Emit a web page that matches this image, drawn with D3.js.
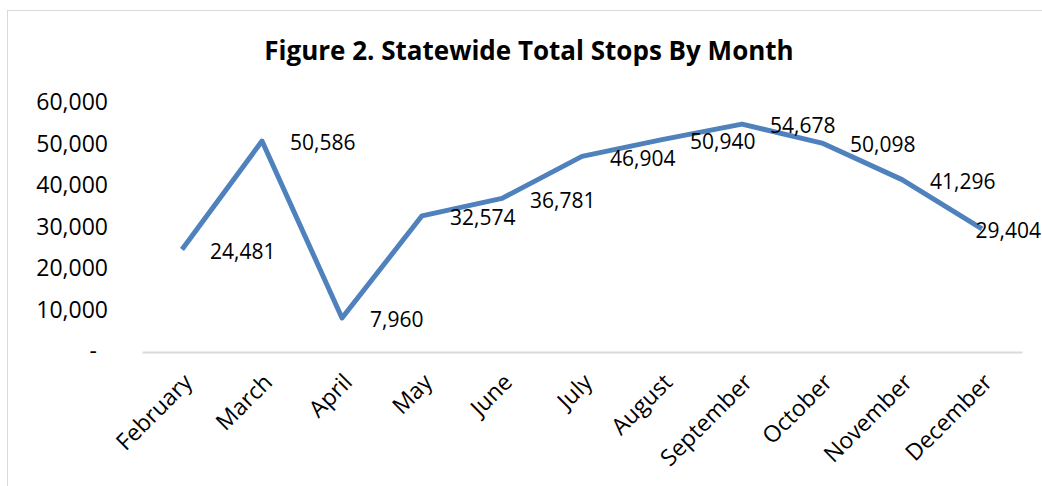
<!DOCTYPE html>
<html>
<head>
	<title>statewide-stops</title>
	<script src="https://d3js.org/d3.v7.min.js"></script>
	<style>
		body { margin: 0; background: #fff; }
		text { font-family: "Open Sans", sans-serif; fill: #000; }
	</style>
</head>
<body>
	<svg id="chart" width="1042" height="486"></svg>
	<script type="text/javascript">
		var months = ['February', 'March', 'April', 'May', 'June', 'July', 'August', 'September', 'October', 'November', 'December'];
		var stops = [24481, 50586, 7960, 32574, 36781, 46904, 50940, 54678, 50098, 41296, 29404];
		var yTicks = [0, 10000, 20000, 30000, 40000, 50000, 60000];

		var W = 1042, H = 486;
		var svg = d3.select('#chart');

		// chart frame
		svg.append('rect')
			.attr('x', 7.5).attr('y', 10.5)
			.attr('width', W).attr('height', H)
			.attr('fill', 'none').attr('stroke', '#d9d9d9');

		svg.append('text')
			.attr('x', 529).attr('y', 60)
			.attr('text-anchor', 'middle')
			.style('font-weight', 'bold').style('font-size', '26px')
			.text('Figure 2. Statewide Total Stops By Month');

		var x = d3.scaleBand().domain(months).range([142, 1022]);
		var y = d3.scaleLinear().domain([0, 60000]).range([351, 102]);
		var fmt = d3.format(',');

		// y labels
		svg.selectAll('.ylab')
			.data(yTicks)
			.enter().append('text')
			.attr('class', 'ylab')
			.attr('x', d => d === 0 ? 97 : 108)
			.attr('y', d => y(d))
			.attr('dy', '0.35em')
			.attr('text-anchor', 'end')
			.style('font-size', '23px')
			.text(d => d === 0 ? '-' : fmt(d));

		// category axis
		var xAxis = svg.append('g')
			.attr('transform', 'translate(0,352)')
			.call(d3.axisBottom(x).tickSize(0).tickPadding(0));
		xAxis.select('.domain').attr('stroke', '#d9d9d9').attr('stroke-width', 2);
		xAxis.selectAll('text')
			.attr('text-anchor', 'end')
			.attr('transform', 'translate(6,26) rotate(-45)')
			.attr('dy', '0.35em')
			.style('font-size', '23px')
			.style('font-family', '"Open Sans", sans-serif');

		var cx = d => x(d) + x.bandwidth() / 2;

		var line = d3.line()
			.x((d, i) => cx(months[i]))
			.y(d => y(d));

		svg.append('path')
			.datum(stops)
			.attr('d', line)
			.attr('fill', 'none')
			.attr('stroke', '#4f81bd')
			.attr('stroke-width', 5)
			.attr('stroke-linejoin', 'round');

		// data labels to the right of each point
		svg.selectAll('.dlab')
			.data(stops)
			.enter().append('text')
			.attr('class', 'dlab')
			.attr('x', (d, i) => cx(months[i]) + 28)
			.attr('y', d => y(d) + 2)
			.attr('dy', '0.35em')
			.style('font-size', '21px')
			.text(d => fmt(d))
			.each(function () {
				var t = d3.select(this);
				var w = this.getComputedTextLength();
				var xx = +t.attr('x');
				if (xx + w > W - 1) t.attr('x', W - 1 - w);
			});
	</script>
</body>
</html>
